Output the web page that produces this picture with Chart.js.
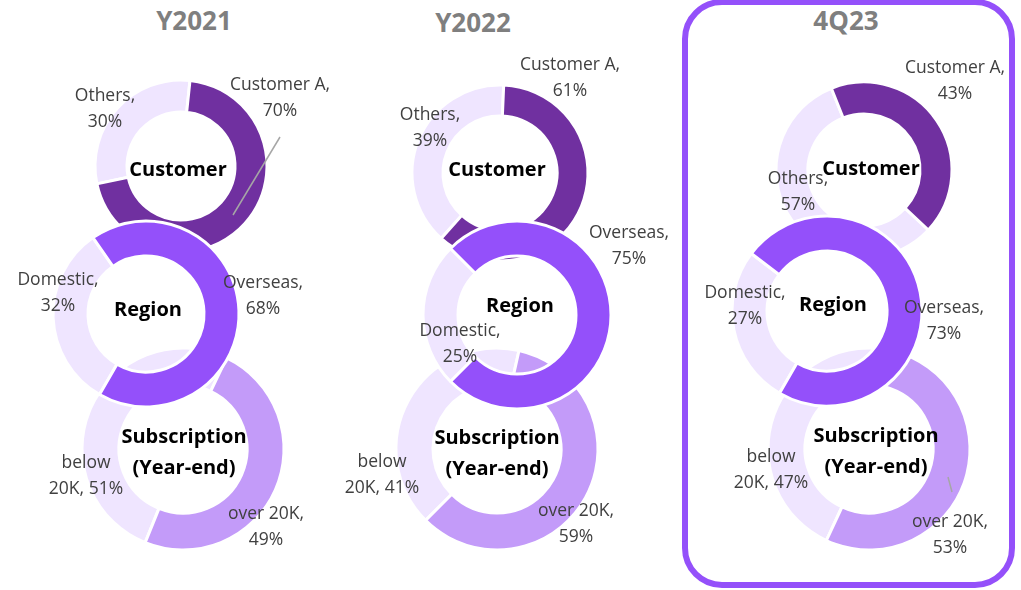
<!DOCTYPE html>
<html>
<head>
<meta charset="utf-8">
<script src="https://cdn.jsdelivr.net/npm/chart.js@4.4.1/dist/chart.umd.min.js"></script>
<style>
    html, body { margin: 0; padding: 0; background: #fff; }
    #stage { position: relative; width: 1021px; height: 590px; overflow: hidden; font-family: 'Open Sans', sans-serif; }
    #stage canvas { position: absolute; }
    .col-title { position: absolute; width: 200px; text-align: center; font-weight: bold; font-size: 26px; color: #7f7f7f; }
    #box { position: absolute; left: 682px; top: -1px; width: 321px; height: 577px; border: 6px solid #9450fa; border-radius: 40px; }
</style>
</head>
<body>
<div id="stage">
    <div id="box"></div>
</div>

<script>
// Periods shown as columns
const periods = ['Y2021', 'Y2022', '4Q23'];

// Customer split (%)
const customerNames = ['Others', 'Customer A'];
const customerOthers = [30, 39, 57];
const customerA = [70, 61, 43];

// Region split (%)
const regionNames = ['Domestic', 'Overseas'];
const regionDomestic = [32, 25, 27];
const regionOverseas = [68, 75, 73];

// Subscription (year-end) split (%)
const subNames = ['below 20K', 'over 20K'];
const subBelow = [51, 41, 47];
const subOver = [49, 59, 53];

// Colours
const paleColor = '#efe5ff';
const customerColor = '#7030a0';
const regionColor = '#9450fa';
const subColor = '#c39bf9';

// Layout: ring centres, radii, rotation and label offsets (pixels from ring centre)
const columns = [
    {
        titleX: 194, titleY: 2,
        customer: { cx: 181, cy: 166, r: 86, inner: 54, rot: 258,
            offsets: [{ dx: -76, dy: -70 }, { dx: 99, dy: -81 }], title: { dx: -3, dy: 4 },
            leaders: [[52, 49, 99, -29]] },
        region: { cx: 146, cy: 314, r: 93, inner: 58, rot: 210,
            offsets: [{ dx: -88, dy: -34 }, { dx: 117, dy: -31 }], title: { dx: 2, dy: -4 } },
        sub: { cx: 183, cy: 449, r: 101, inner: 64, rot: 202,
            offsets: [{ dx: -97, dy: 14, wrap: true }, { dx: 83, dy: 65 }], title: { dx: 1, dy: -12 } }
    },
    {
        titleX: 473, titleY: 4,
        customer: { cx: 500, cy: 173, r: 88, inner: 57, rot: 222,
            offsets: [{ dx: -70, dy: -58 }, { dx: 70, dy: -108 }], title: { dx: -3, dy: -3 } },
        region: { cx: 517, cy: 315, r: 94, inner: 59, rot: 225,
            offsets: [{ dx: -57, dy: 16 }, { dx: 112, dy: -82 }], title: { dx: 3, dy: -9 } },
        sub: { cx: 497, cy: 449, r: 101, inner: 64, rot: 225,
            offsets: [{ dx: -115, dy: 13, wrap: true }, { dx: 79, dy: 62 }], title: { dx: 0, dy: -11 } }
    },
    {
        titleX: 846, titleY: 2,
        customer: { cx: 864, cy: 170, r: 88, inner: 56, rot: 133,
            offsets: [{ dx: -66, dy: 9 }, { dx: 91, dy: -102 }], title: { dx: 7, dy: -1 } },
        region: { cx: 827, cy: 311, r: 95, inner: 60, rot: 210,
            offsets: [{ dx: -82, dy: -18 }, { dx: 117, dy: -3 }], title: { dx: 6, dy: -6 } },
        sub: { cx: 869, cy: 449, r: 101, inner: 64, rot: 205,
            offsets: [{ dx: -98, dy: 8, wrap: true }, { dx: 81, dy: 73 }], title: { dx: 7, dy: -13 },
            leaders: [[79, 28, 83, 43]] }
    }
];

const CW = 380, CH = 320;
const stage = document.getElementById('stage');

// Draws slice labels, leader lines and the ring title
const ringText = {
    id: 'ringText',
    afterDatasetsDraw(chart, args, opts) {
        const ctx = chart.ctx;
        const arc = chart.getDatasetMeta(0).data[0];
        const cx = arc.x, cy = arc.y;
        ctx.save();

        ctx.strokeStyle = '#a6a6a6';
        ctx.lineWidth = 1.5;
        (opts.leaders || []).forEach(l => {
            ctx.beginPath();
            ctx.moveTo(cx + l[0], cy + l[1]);
            ctx.lineTo(cx + l[2], cy + l[3]);
            ctx.stroke();
        });

        ctx.textAlign = 'center';
        ctx.textBaseline = 'middle';
        ctx.fillStyle = '#404040';
        ctx.font = "17.5px 'Open Sans'";
        chart.data.labels.forEach((name, i) => {
            const v = chart.data.datasets[0].data[i];
            const o = opts.offsets[i];
            let lines;
            if (o.wrap) {
                const sp = name.indexOf(' ');
                lines = [name.slice(0, sp), name.slice(sp + 1) + ', ' + v + '%'];
            } else {
                lines = [name + ',', v + '%'];
            }
            lines.forEach((t, k) => ctx.fillText(t, cx + o.dx, cy + o.dy + k * 26));
        });

        ctx.fillStyle = '#000';
        ctx.font = "bold 20px 'Open Sans'";
        opts.title.text.forEach((t, k) => ctx.fillText(t, cx + opts.title.dx, cy + opts.title.dy + k * 31));
        ctx.restore();
    }
};

function makeRing(lay, names, values, color, titleLines) {
    const cv = document.createElement('canvas');
    cv.width = CW;
    cv.height = CH;
    cv.style.left = (lay.cx - CW / 2) + 'px';
    cv.style.top = (lay.cy - CH / 2) + 'px';
    stage.appendChild(cv);

    new Chart(cv.getContext('2d'), {
        type: 'doughnut',
        data: {
            labels: names,
            datasets: [{
                data: values,
                backgroundColor: [paleColor, color],
                borderColor: '#ffffff',
                borderWidth: 3
            }]
        },
        options: {
            responsive: false,
            animation: false,
            radius: lay.r,
            cutout: (lay.inner / lay.r * 100) + '%',
            rotation: lay.rot,
            layout: { padding: 0 },
            plugins: {
                legend: { display: false },
                tooltip: { enabled: false },
                ringText: {
                    offsets: lay.offsets,
                    leaders: lay.leaders,
                    title: { dx: lay.title.dx, dy: lay.title.dy, text: titleLines }
                }
            }
        },
        plugins: [ringText]
    });
}

periods.forEach((p, i) => {
    const col = columns[i];

    const t = document.createElement('div');
    t.className = 'col-title';
    t.textContent = p;
    t.style.left = (col.titleX - 100) + 'px';
    t.style.top = col.titleY + 'px';
    stage.appendChild(t);

    makeRing(col.customer, customerNames, [customerOthers[i], customerA[i]], customerColor, ['Customer']);
    makeRing(col.sub, subNames, [subBelow[i], subOver[i]], subColor, ['Subscription', '(Year-end)']);
    makeRing(col.region, regionNames, [regionDomestic[i], regionOverseas[i]], regionColor, ['Region']);
});
</script>
</body>
</html>
